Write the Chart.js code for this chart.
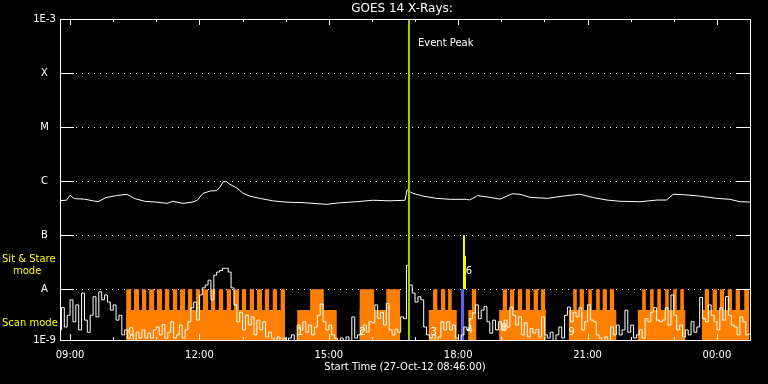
<!DOCTYPE html>
<html>
<head>
<meta charset="utf-8">
<script src="https://cdn.jsdelivr.net/npm/chart.js@4.4.1/dist/chart.umd.min.js"></script>
<style>
  html, body { margin: 0; padding: 0; background: #000; }
  canvas { display: block; background: #000; }
</style>
</head>
<body>
<canvas id="goes" width="768" height="384"></canvas>
<script>
// times are minutes since 27-Oct-12 00:00 (00:00 next day = 1440)
const X_MIN = 526, X_MAX = 1486;          // 08:46 .. 00:46
const Y_MIN = 1.15e-9, Y_MAX = 1e-3;      // bottom edge sits a little above 1E-9

// 1-8 A channel
const longTimes = [526, 535, 540, 546, 560, 572, 579, 590, 605, 619, 630, 645, 660, 675, 683, 697, 711, 717, 725, 735,
  744, 749, 753, 758, 762, 772, 781, 790, 804, 822, 842, 864, 897, 915, 939, 961, 985, 1006, 1009, 1013,
  1017, 1031, 1050, 1069, 1092, 1096, 1107, 1124, 1138, 1155, 1166, 1180, 1204, 1226, 1249, 1268, 1287, 1305, 1333, 1357,
  1370, 1379, 1393, 1416, 1440, 1458, 1472, 1486];
const longFlux = [4.37e-7, 4.43e-7, 5.5e-7, 4.75e-7, 4.64e-7, 4.32e-7, 4.16e-7, 4.97e-7, 5.4e-7, 5.72e-7, 4.75e-7, 4.21e-7, 4.1e-7, 3.88e-7, 4.24e-7, 3.88e-7, 4.1e-7, 4.43e-7, 5.94e-7, 6.57e-7,
  6.68e-7, 7.85e-7, 9.78e-7, 9.68e-7, 8.83e-7, 7.43e-7, 5.94e-7, 5.29e-7, 4.8e-7, 4.32e-7, 4.08e-7, 4.0e-7, 3.72e-7, 3.97e-7, 4.16e-7, 4.43e-7, 4.32e-7, 4.43e-7, 6.9e-7, 6.36e-7,
  5.94e-7, 5.29e-7, 4.8e-7, 4.61e-7, 4.61e-7, 4.47e-7, 5.4e-7, 5.02e-7, 4.64e-7, 5.83e-7, 5.72e-7, 5.02e-7, 4.8e-7, 5.29e-7, 5.72e-7, 4.97e-7, 4.47e-7, 4.24e-7, 4.16e-7, 4.47e-7,
  4.47e-7, 5.72e-7, 5.62e-7, 5.29e-7, 4.8e-7, 4.61e-7, 4.16e-7, 4.1e-7];

// 0.5-4 A channel, one value every 4 minutes from 08:46
const SHORT_START = 526, SHORT_STEP = 4;
const shortFlux = [
  1.77e-9, 4.55e-9, 2.0e-9, 3.3e-9, 6.37e-9, 2.5e-9, 5.13e-9, 1.77e-9, 8.5e-9, 2.68e-9, 1.6e-9, 3.3e-9, 7.28e-9, 3.08e-9, 8.95e-9,
  6.37e-9, 7.85e-9, 5.8e-9, 4.1e-9, 5.13e-9, 2.68e-9, 3.3e-9, 1.43e-9, 1.77e-9, 1.25e-9, 1.43e-9, 1.1e-9, 1.6e-9, 1.25e-9, 1.77e-9,
  1.25e-9, 1.54e-9, 1.25e-9, 1.77e-9, 2.0e-9, 1.43e-9, 2.22e-9, 1.25e-9, 1.6e-9, 2.5e-9, 1.25e-9, 1.43e-9, 2.17e-9, 1.25e-9, 1.77e-9,
  2.5e-9, 4.55e-9, 5.8e-9, 2.68e-9, 7.85e-9, 1.06e-8, 1.2e-8, 1.47e-8, 6.37e-9, 1.82e-8, 2.08e-8, 2.22e-8, 2.44e-8, 2.44e-8, 2.08e-8,
  1.06e-8, 5.13e-9, 2.5e-9, 3.76e-9, 1.77e-9, 3.3e-9, 2.17e-9, 3.08e-9, 1.43e-9, 2.68e-9, 1.77e-9, 2.5e-9, 1.31e-9, 1.6e-9, 1.25e-9,
  1.1e-9, 1.31e-9, 1.1e-9, 1.25e-9, 1.1e-9, 1.25e-9, 1.43e-9, 1.1e-9, 2.17e-9, 1.77e-9, 2.5e-9, 1.6e-9, 2.17e-9, 1.43e-9, 2.0e-9,
  3.3e-9, 5.35e-9, 2.5e-9, 1.77e-9, 2.17e-9, 1.43e-9, 1.25e-9, 1.1e-9, 1.25e-9, 1.1e-9, 1.31e-9, 1.1e-9, 3.08e-9, 1.25e-9, 1.43e-9,
  1.77e-9, 2.17e-9, 1.6e-9, 2.5e-9, 2.4e-9, 5.13e-9, 2.85e-9, 3.76e-9, 2.17e-9, 5.47e-9, 1.77e-9, 1.43e-9, 1.82e-9, 1.6e-9, 3.08e-9,
  2.85e-9, 2.78e-8, 1.2e-8, 8.5e-9, 5.8e-9, 7.28e-9, 6.37e-9, 2.0e-9, 1.43e-9, 1.25e-9, 1.43e-9, 1.1e-9, 1.31e-9, 2.5e-9, 1.77e-9,
  2.5e-9, 1.77e-9, 2.17e-9, 1.25e-9, 1.1e-9, 1.43e-9, 2.0e-9, 1.77e-9, 2.85e-9, 3.64e-9, 5.13e-9, 2.85e-9, 4.1e-9, 4.78e-9, 2.5e-9,
  1.54e-9, 2.68e-9, 1.77e-9, 2.5e-9, 1.77e-9, 2.68e-9, 2.0e-9, 4.67e-9, 3.3e-9, 2.17e-9, 3.08e-9, 1.43e-9, 2.4e-9, 1.31e-9, 1.88e-9,
  1.54e-9, 1.82e-9, 1.31e-9, 3.08e-9, 1.43e-9, 1.25e-9, 1.6e-9, 1.1e-9, 1.43e-9, 2.0e-9, 1.25e-9, 3.3e-9, 4.67e-9, 2.5e-9, 3.76e-9,
  3.08e-9, 4.55e-9, 1.77e-9, 2.5e-9, 5.13e-9, 2.68e-9, 2.5e-9, 1.43e-9, 1.25e-9, 1.1e-9, 1.31e-9, 1.1e-9, 2.0e-9, 1.43e-9, 2.17e-9,
  1.43e-9, 1.77e-9, 4.1e-9, 1.6e-9, 2.17e-9, 1.25e-9, 1.43e-9, 1.77e-9, 1.25e-9, 2.85e-9, 2.5e-9, 3.76e-9, 4.55e-9, 2.68e-9, 2.5e-9,
  2.68e-9, 4.55e-9, 2.17e-9, 7.85e-9, 3.3e-9, 1.77e-9, 2.17e-9, 1.31e-9, 1.77e-9, 1.43e-9, 2.5e-9, 1.6e-9, 2.0e-9, 7.05e-9, 2.85e-9,
  2.5e-9, 5.13e-9, 3.3e-9, 2.5e-9, 1.77e-9, 4.55e-9, 2.68e-9, 7.28e-9, 3.3e-9, 2.17e-9, 2.0e-9, 1.43e-9, 3.08e-9, 2.5e-9, 1.43e-9,
  1.48e-9];

// instrument mode bars (scan mode blocks and sit & stare teeth)
const SCAN_LEVEL = 4.13e-9, STARE_LEVEL = 1e-8;
const scanStart = [618, 856, 943, 1039, 1094, 1137, 1234, 1330, 1419];
const scanEnd   = [839, 911, 999, 1078, 1105, 1202, 1300, 1396, 1485];
const stareStart = [618, 629, 640, 650, 661, 672, 683, 693, 704, 715, 725, 736, 747, 758, 768, 779, 790, 800, 811, 822, 833,
  874, 943, 980, 1045, 1056, 1066, 1099,
  1142, 1152, 1163, 1174, 1185, 1195,
  1240, 1249, 1261, 1272, 1281, 1291,
  1336, 1347, 1357, 1368, 1379, 1389,
  1423, 1434, 1444, 1455, 1466, 1478];
const stareEnd = [625, 636, 646, 657, 668, 678, 689, 700, 710, 721, 732, 742, 753, 764, 775, 785, 796, 807, 817, 828, 839,
  893, 963, 999, 1051, 1062, 1071, 1105,
  1148, 1158, 1169, 1180, 1191, 1201,
  1245, 1255, 1266, 1277, 1287, 1297,
  1341, 1352, 1362, 1373, 1384, 1394,
  1429, 1440, 1450, 1461, 1472, 1485];

const blueStart = [1084], blueEnd = [1088];
const yellowStart = [1086.6, 1089.4], yellowEnd = [1089.4, 1090.8], yellowTop = [1e-7, 4.1e-8];

const EVENT_PEAK = 1011.5;   // 16:51:30

// sequence numbers written on the plot
const markTimes  = [625, 860, 947, 1046, 1096, 1095, 1144, 1238];
const markFlux   = [1.62e-9, 1.62e-9, 1.62e-9, 1.62e-9, 1.7e-9, 2.18e-8, 1.85e-9, 1.62e-9];
const markLabels = ['0', '1', '2', '3', '4', '6', '8', '9'];

// axes
const yTickValues = [1e-9, 1e-8, 1e-7, 1e-6, 1e-5, 1e-4, 1e-3];
const yTickLabels = ['1E-9', 'A', 'B', 'C', 'M', 'X', '1E-3'];
const hourTicks = [540, 600, 660, 720, 780, 840, 900, 960, 1020, 1080, 1140, 1200, 1260, 1320, 1380, 1440];
const xLabelTimes = [540, 720, 900, 1080, 1260, 1440];
const xLabels = ['09:00', '12:00', '15:00', '18:00', '21:00', '00:00'];

function blocks(starts, ends, tops, base) {
  var pts = [];
  for (let i = 0; i < starts.length; ++i) {
    var top = Array.isArray(tops) ? tops[i] : tops;
    pts.push({x: starts[i], y: base}, {x: starts[i], y: top}, {x: ends[i], y: top}, {x: ends[i], y: base});
  }
  return pts;
}

const longData = longTimes.map((t, i) => ({x: t, y: longFlux[i]}));
const shortData = shortFlux.map((v, i) => ({x: SHORT_START + i * SHORT_STEP, y: v}));

const FONT = '"DejaVu Sans", sans-serif';

const goesFrame = {
  id: 'goesFrame',
  beforeDatasetsDraw(chart) {
    const ctx = chart.ctx, ys = chart.scales.y, a = chart.chartArea;
    ctx.save();
    ctx.strokeStyle = '#fff';
    ctx.lineWidth = 1;
    ctx.setLineDash([1, 5]);
    for (let i = 1; i < yTickValues.length - 1; ++i) {
      var y = Math.round(ys.getPixelForValue(yTickValues[i])) + 0.5;
      ctx.beginPath();
      ctx.moveTo(a.left + 16, y);
      ctx.lineTo(a.right - 14, y);
      ctx.stroke();
    }
    ctx.restore();
  },
  afterDatasetsDraw(chart) {
    const ctx = chart.ctx, xs = chart.scales.x, ys = chart.scales.y, a = chart.chartArea;
    ctx.save();
    ctx.strokeStyle = '#fff';
    ctx.lineWidth = 1;
    ctx.strokeRect(a.left + 0.5, a.top + 0.5, a.right - a.left, a.bottom - a.top);
    ctx.beginPath();
    for (let i = 1; i < yTickValues.length - 1; ++i) {
      var y = Math.round(ys.getPixelForValue(yTickValues[i])) + 0.5;
      ctx.moveTo(a.left, y); ctx.lineTo(a.left + 14, y);
      ctx.moveTo(a.right - 14, y); ctx.lineTo(a.right, y);
    }
    hourTicks.forEach(function(t) {
      var x = Math.round(xs.getPixelForValue(t)) + 0.5;
      var len = xLabelTimes.indexOf(t) >= 0 ? 6 : 3;
      ctx.moveTo(x, a.top); ctx.lineTo(x, a.top + len);
      ctx.moveTo(x, a.bottom); ctx.lineTo(x, a.bottom - len);
    });
    ctx.stroke();

    ctx.fillStyle = '#fff';
    ctx.font = '10px ' + FONT;
    ctx.textAlign = 'center';
    ctx.textBaseline = 'middle';
    markTimes.forEach(function(t, i) {
      ctx.fillText(markLabels[i], xs.getPixelForValue(t), ys.getPixelForValue(markFlux[i]));
    });
    ctx.restore();
  },
  afterDraw(chart) {
    const ctx = chart.ctx, xs = chart.scales.x, ys = chart.scales.y, a = chart.chartArea;
    ctx.save();
    ctx.fillStyle = '#fff';
    ctx.textBaseline = 'middle';
    ctx.textAlign = 'center';
    ctx.font = '12px ' + FONT;
    ctx.fillText('GOES 14 X-Rays:', 402, 9);
    ctx.font = '10px ' + FONT;
    yTickValues.forEach(function(v, i) {
      ctx.fillText(yTickLabels[i], 44.5, ys.getPixelForValue(Math.max(v, ys.min)) + 0.5);
    });
    xLabelTimes.forEach(function(t, i) {
      ctx.fillText(xLabels[i], xs.getPixelForValue(t), a.bottom + 15);
    });
    ctx.fillText('Start Time (27-Oct-12 08:46:00)', 405, a.bottom + 27);
    ctx.textAlign = 'left';
    ctx.fillText('Event Peak', xs.getPixelForValue(EVENT_PEAK) + 9, 43);
    ctx.fillStyle = '#ffff00';
    ctx.fillText('Sit & Stare', 2, 259);
    ctx.fillText('mode', 13, 271);
    ctx.fillText('Scan mode', 2, 323.5);
    ctx.restore();
  }
};

const ctx = document.getElementById('goes');
new Chart(ctx, {
  type: 'line',
  data: {
    datasets: [
      { label: 'Event Peak', data: [{x: EVENT_PEAK, y: Y_MIN}, {x: EVENT_PEAK, y: Y_MAX}],
        borderColor: 'rgb(160, 208, 0)', borderWidth: 2, order: 1 },
      { label: '1-8 A', data: longData, borderColor: '#fff', borderWidth: 1, order: 2 },
      { label: '0.5-4 A', data: shortData, borderColor: '#fff', borderWidth: 1, stepped: 'middle', order: 2 },
      { label: 'stare target', data: blocks(yellowStart, yellowEnd, yellowTop, STARE_LEVEL),
        borderColor: 'rgba(0,0,0,0)', borderWidth: 0, fill: {value: STARE_LEVEL}, backgroundColor: '#ffff00', order: 3 },
      { label: 'blue', data: blocks(blueStart, blueEnd, STARE_LEVEL, Y_MIN),
        borderColor: 'rgba(0,0,0,0)', borderWidth: 0, fill: 'start', backgroundColor: '#6464ff', order: 4 },
      { label: 'Sit & Stare mode', data: blocks(stareStart, stareEnd, STARE_LEVEL, Y_MIN),
        borderColor: 'rgba(0,0,0,0)', borderWidth: 0, fill: 'start', backgroundColor: '#ff8000', order: 5 },
      { label: 'Scan mode', data: blocks(scanStart, scanEnd, SCAN_LEVEL, Y_MIN),
        borderColor: 'rgba(0,0,0,0)', borderWidth: 0, fill: 'start', backgroundColor: '#ff8000', order: 6 }
    ]
  },
  options: {
    responsive: false,
    animation: false,
    devicePixelRatio: 1,
    layout: { padding: { left: 60, right: 18, top: 19, bottom: 44 } },
    elements: { point: { radius: 0 }, line: { tension: 0 } },
    plugins: { legend: { display: false }, tooltip: { enabled: false } },
    scales: {
      x: { type: 'linear', min: X_MIN, max: X_MAX, display: false },
      y: { type: 'logarithmic', min: Y_MIN, max: Y_MAX, display: false }
    }
  },
  plugins: [goesFrame]
});
</script>
</body>
</html>
